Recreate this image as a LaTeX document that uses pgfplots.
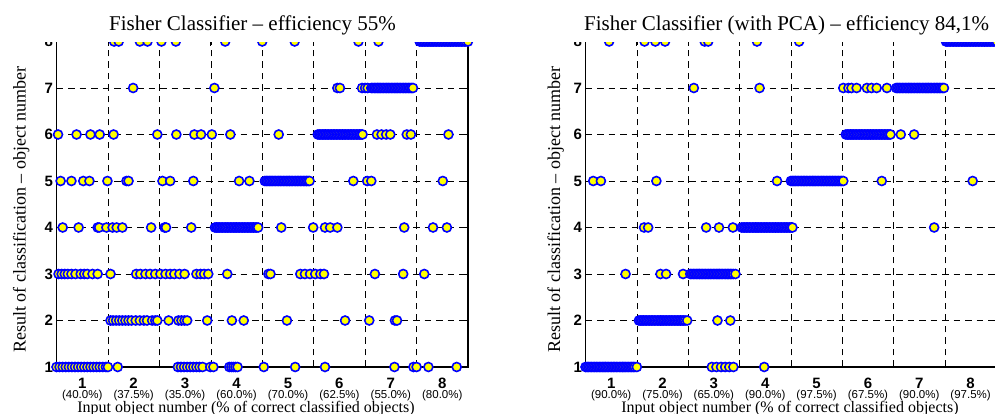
\documentclass[border=0pt]{standalone}
\usepackage{fontspec}
\setmainfont{Liberation Serif}
\newfontfamily\arial{Liberation Sans}
\usepackage{pgfplots}
\pgfplotsset{compat=1.18}
\definecolor{mblue}{HTML}{0000FF}
\definecolor{myellow}{HTML}{FFFF00}

\pgfplotsset{
  fisher/.style={
    scale only axis, height=325.5pt,
    xmin=0.5, xmax=8.5, ymin=1, ymax=8,
    clip=false,
    xtick={1,...,8}, xticklabels={1,2,3,4,5,6,7,8},
    ytick={1,...,8}, yticklabels={1,2,3,4,5,6,7,8},
    minor xtick={1.5,2.5,...,7.5},
    xminorgrids=true, ymajorgrids=true,
    every major x tick/.style={draw=none},
    every extra x tick/.style={draw=none},
    tick align=inside, major tick length=5pt, minor tick length=5pt,
    grid style={black, line width=0.6pt, dash pattern=on 6.5pt off 5pt},
    minor grid style={black, line width=0.6pt, dash pattern=on 6.5pt off 5pt},
    axis line style={black, line width=1.4pt},
    tick style={black, line width=0.8pt},
    xticklabel style={inner sep=1pt, yshift=-10pt, font=\arial\bfseries\fontsize{15}{15}\selectfont},
    yticklabel style={font=\arial\bfseries\fontsize{15}{15}\selectfont},
    extra x ticks={1,...,8},
    extra x tick style={xticklabel style={inner sep=0pt, yshift=-13pt, font=\arial\fontsize{11.5}{12}\selectfont}},
  },
  fish/.style={only marks, mark=*, mark size=4.5pt,
    mark options={draw=mblue, fill=myellow, line width=1.6pt}},
}

\begin{document}
\begin{tikzpicture}[x=1pt, y=1pt]
\useasboundingbox (0,0) rectangle (995,414);

% left panel
\begin{axis}[fisher, at={(56.5pt,47pt)}, anchor=south west, width=411.5pt,
  extra x tick labels={(40.0\%),(37.5\%),(35.0\%),(60.0\%),(70.0\%),(62.5\%),(55.0\%),(80.0\%)}]
\addplot[fish] coordinates {(0.50,1)(0.56,1)(0.62,1)(0.68,1)(0.74,1)(0.80,1)(0.86,1)(0.92,1)(0.98,1)(1.04,1)(1.10,1)(1.16,1)(1.22,1)(1.28,1)(1.34,1)(1.40,1)(1.46,1)(1.50,1)(1.69,1)(2.86,1)(2.92,1)(2.98,1)(3.04,1)(3.10,1)(3.16,1)(3.22,1)(3.28,1)(3.34,1)(3.49,1)(3.55,1)(3.86,1)(3.90,1)(3.94,1)(3.98,1)(4.02,1)(4.53,1)(5.14,1)(5.72,1)(7.07,1)(7.44,1)(7.50,1)(7.73,1)(8.28,1)};
\addplot[fish] coordinates {(1.55,2)(1.60,2)(1.66,2)(1.72,2)(1.78,2)(1.84,2)(1.90,2)(1.96,2)(2.04,2)(2.12,2)(2.20,2)(2.26,2)(2.36,2)(2.42,2)(2.46,2)(2.68,2)(2.87,2)(2.93,2)(2.99,2)(3.04,2)(3.43,2)(3.91,2)(4.14,2)(4.98,2)(6.11,2)(6.58,2)(7.08,2)(7.12,2)};
\addplot[fish] coordinates {(0.54,3)(0.60,3)(0.66,3)(0.72,3)(0.79,3)(0.87,3)(0.97,3)(1.04,3)(1.10,3)(1.20,3)(1.30,3)(1.55,3)(2.05,3)(2.13,3)(2.23,3)(2.32,3)(2.42,3)(2.52,3)(2.62,3)(2.71,3)(2.79,3)(2.89,3)(2.99,3)(3.22,3)(3.30,3)(3.37,3)(3.45,3)(3.82,3)(4.62,3)(4.66,3)(5.24,3)(5.33,3)(5.43,3)(5.53,3)(5.63,3)(5.70,3)(6.69,3)(7.24,3)(7.65,3)};
\addplot[fish] coordinates {(0.62,4)(0.93,4)(1.30,4)(1.33,4)(1.47,4)(1.59,4)(1.67,4)(1.78,4)(2.34,4)(2.60,4)(2.63,4)(3.12,4)(3.58,4)(3.61,4)(3.64,4)(3.67,4)(3.70,4)(3.73,4)(3.76,4)(3.79,4)(3.82,4)(3.85,4)(3.88,4)(3.91,4)(3.94,4)(3.97,4)(4.00,4)(4.03,4)(4.06,4)(4.09,4)(4.12,4)(4.15,4)(4.18,4)(4.21,4)(4.24,4)(4.27,4)(4.30,4)(4.33,4)(4.36,4)(4.39,4)(4.42,4)(4.87,4)(5.49,4)(5.72,4)(5.82,4)(5.96,4)(7.26,4)(7.82,4)(8.09,4)};
\addplot[fish] coordinates {(0.58,5)(0.79,5)(1.02,5)(1.14,5)(1.49,5)(1.86,5)(1.90,5)(2.56,5)(2.71,5)(3.16,5)(4.05,5)(4.25,5)(4.55,5)(4.58,5)(4.61,5)(4.64,5)(4.67,5)(4.70,5)(4.73,5)(4.76,5)(4.79,5)(4.82,5)(4.85,5)(4.88,5)(4.91,5)(4.94,5)(4.97,5)(5.00,5)(5.03,5)(5.06,5)(5.09,5)(5.12,5)(5.15,5)(5.18,5)(5.21,5)(5.24,5)(5.27,5)(5.30,5)(5.33,5)(5.36,5)(5.39,5)(5.42,5)(6.27,5)(6.54,5)(6.62,5)(8.01,5)};
\addplot[fish] coordinates {(0.53,6)(0.89,6)(1.16,6)(1.34,6)(1.61,6)(2.46,6)(2.83,6)(3.18,6)(3.31,6)(3.52,6)(3.88,6)(4.82,6)(5.58,6)(5.61,6)(5.64,6)(5.67,6)(5.70,6)(5.73,6)(5.76,6)(5.79,6)(5.82,6)(5.85,6)(5.88,6)(5.91,6)(5.94,6)(5.97,6)(6.00,6)(6.03,6)(6.06,6)(6.09,6)(6.12,6)(6.15,6)(6.18,6)(6.21,6)(6.24,6)(6.27,6)(6.30,6)(6.33,6)(6.36,6)(6.39,6)(6.42,6)(6.45,6)(6.73,6)(6.82,6)(6.91,6)(6.99,6)(7.31,6)(7.39,6)(8.12,6)};
\addplot[fish] coordinates {(1.99,7)(3.57,7)(5.96,7)(6.01,7)(6.44,7)(6.50,7)(6.55,7)(6.62,7)(6.65,7)(6.68,7)(6.71,7)(6.74,7)(6.77,7)(6.80,7)(6.83,7)(6.86,7)(6.89,7)(6.92,7)(6.95,7)(6.98,7)(7.01,7)(7.04,7)(7.07,7)(7.10,7)(7.13,7)(7.16,7)(7.19,7)(7.22,7)(7.25,7)(7.28,7)(7.31,7)(7.34,7)(7.37,7)(7.40,7)(7.43,7)};
\addplot[fish] coordinates {(1.62,8)(1.71,8)(2.12,8)(2.27,8)(2.54,8)(2.82,8)(3.78,8)(4.50,8)(5.13,8)(6.37,8)(6.76,8)(7.56,8)(7.59,8)(7.62,8)(7.65,8)(7.68,8)(7.71,8)(7.74,8)(7.77,8)(7.80,8)(7.83,8)(7.86,8)(7.89,8)(7.92,8)(7.95,8)(7.98,8)(8.01,8)(8.04,8)(8.07,8)(8.10,8)(8.13,8)(8.16,8)(8.19,8)(8.22,8)(8.25,8)(8.28,8)(8.31,8)(8.34,8)(8.37,8)(8.40,8)(8.43,8)(8.46,8)(8.50,8)};
\end{axis}

% right panel
\begin{axis}[fisher, at={(585.5pt,47pt)}, anchor=south west, width=410.8pt,
  extra x tick labels={(90.0\%),(75.0\%),(65.0\%),(90.0\%),(97.5\%),(67.5\%),(90.0\%),(97.5\%)}]
\addplot[fish] coordinates {(0.50,1)(0.53,1)(0.56,1)(0.59,1)(0.62,1)(0.65,1)(0.68,1)(0.71,1)(0.74,1)(0.77,1)(0.80,1)(0.83,1)(0.86,1)(0.89,1)(0.92,1)(0.95,1)(0.98,1)(1.01,1)(1.04,1)(1.07,1)(1.10,1)(1.13,1)(1.16,1)(1.19,1)(1.22,1)(1.25,1)(1.28,1)(1.31,1)(1.34,1)(1.37,1)(1.40,1)(1.43,1)(1.46,1)(1.50,1)(2.96,1)(3.05,1)(3.14,1)(3.22,1)(3.30,1)(3.38,1)(3.98,1)};
\addplot[fish] coordinates {(1.54,2)(1.57,2)(1.60,2)(1.63,2)(1.66,2)(1.69,2)(1.72,2)(1.75,2)(1.78,2)(1.81,2)(1.84,2)(1.87,2)(1.90,2)(1.93,2)(1.96,2)(1.99,2)(2.02,2)(2.05,2)(2.08,2)(2.11,2)(2.14,2)(2.17,2)(2.20,2)(2.23,2)(2.26,2)(2.29,2)(2.32,2)(2.35,2)(2.38,2)(2.41,2)(2.44,2)(2.48,2)(3.07,2)(3.32,2)};
\addplot[fish] coordinates {(1.28,3)(1.96,3)(2.07,3)(2.40,3)(2.54,3)(2.57,3)(2.60,3)(2.63,3)(2.66,3)(2.69,3)(2.72,3)(2.75,3)(2.78,3)(2.81,3)(2.84,3)(2.87,3)(2.90,3)(2.93,3)(2.96,3)(2.99,3)(3.02,3)(3.05,3)(3.08,3)(3.11,3)(3.14,3)(3.17,3)(3.20,3)(3.23,3)(3.26,3)(3.29,3)(3.32,3)(3.35,3)(3.38,3)(3.42,3)};
\addplot[fish] coordinates {(1.64,4)(1.72,4)(2.85,4)(3.10,4)(3.37,4)(3.54,4)(3.57,4)(3.60,4)(3.63,4)(3.66,4)(3.69,4)(3.72,4)(3.75,4)(3.78,4)(3.81,4)(3.84,4)(3.87,4)(3.90,4)(3.93,4)(3.96,4)(3.99,4)(4.02,4)(4.05,4)(4.08,4)(4.11,4)(4.14,4)(4.17,4)(4.20,4)(4.23,4)(4.26,4)(4.29,4)(4.32,4)(4.35,4)(4.38,4)(4.41,4)(4.44,4)(4.47,4)(4.50,4)(4.53,4)(7.29,4)};
\addplot[fish] coordinates {(0.65,5)(0.80,5)(1.88,5)(4.23,5)(4.50,5)(4.53,5)(4.56,5)(4.59,5)(4.62,5)(4.65,5)(4.68,5)(4.71,5)(4.74,5)(4.77,5)(4.80,5)(4.83,5)(4.86,5)(4.89,5)(4.92,5)(4.95,5)(4.98,5)(5.01,5)(5.04,5)(5.07,5)(5.10,5)(5.13,5)(5.16,5)(5.19,5)(5.22,5)(5.25,5)(5.28,5)(5.31,5)(5.34,5)(5.37,5)(5.40,5)(5.43,5)(5.46,5)(5.49,5)(5.52,5)(6.27,5)(8.04,5)};
\addplot[fish] coordinates {(5.57,6)(5.60,6)(5.63,6)(5.66,6)(5.69,6)(5.72,6)(5.75,6)(5.78,6)(5.81,6)(5.84,6)(5.87,6)(5.90,6)(5.93,6)(5.96,6)(5.99,6)(6.02,6)(6.05,6)(6.08,6)(6.11,6)(6.14,6)(6.17,6)(6.20,6)(6.23,6)(6.26,6)(6.29,6)(6.32,6)(6.35,6)(6.38,6)(6.41,6)(6.44,6)(6.64,6)(6.90,6)};
\addplot[fish] coordinates {(2.61,7)(3.89,7)(5.52,7)(5.62,7)(5.68,7)(5.78,7)(5.98,7)(6.07,7)(6.17,7)(6.37,7)(6.55,7)(6.58,7)(6.61,7)(6.64,7)(6.67,7)(6.70,7)(6.73,7)(6.76,7)(6.79,7)(6.82,7)(6.85,7)(6.88,7)(6.91,7)(6.94,7)(6.97,7)(7.00,7)(7.03,7)(7.06,7)(7.09,7)(7.12,7)(7.15,7)(7.18,7)(7.21,7)(7.24,7)(7.27,7)(7.30,7)(7.33,7)(7.36,7)(7.39,7)(7.42,7)(7.45,7)(7.48,7)};
\addplot[fish] coordinates {(0.96,8)(1.65,8)(1.86,8)(2.05,8)(2.82,8)(2.89,8)(3.84,8)(4.66,8)(7.52,8)(7.55,8)(7.58,8)(7.61,8)(7.64,8)(7.67,8)(7.70,8)(7.73,8)(7.76,8)(7.79,8)(7.82,8)(7.85,8)(7.88,8)(7.91,8)(7.94,8)(7.97,8)(8.00,8)(8.03,8)(8.06,8)(8.09,8)(8.12,8)(8.15,8)(8.18,8)(8.21,8)(8.24,8)(8.27,8)(8.30,8)(8.33,8)(8.36,8)(8.39,8)(8.42,8)(8.45,8)(8.48,8)(8.51,8)};
\end{axis}

% the title strip hides the top row, as in the source image
\fill[white] (-5,372.3) rectangle (1000,420);
\node[anchor=base, font=\fontsize{21}{25}\selectfont] at (252.5,383.3) {Fisher Classifier – efficiency 55\%};
\node[anchor=base, font=\fontsize{21}{25}\selectfont] at (786.7,383.3) {Fisher Classifier (with PCA) – efficiency 84,1\%};
\node[rotate=90, anchor=base, font=\fontsize{18}{20}\selectfont] at (25.5,204.5) {Result of classification – object number};
\node[rotate=90, anchor=base, font=\fontsize{18}{20}\selectfont] at (560,204.5) {Result of classification – object number};
\node[anchor=base, inner sep=0pt, font=\fontsize{16}{18}\selectfont] at (246,1.5) {Input object number (\% of correct classified objects)};
\node[anchor=base, inner sep=0pt, font=\fontsize{16}{18}\selectfont] at (790,1.5) {Input object number (\% of correct classified objects)};
\end{tikzpicture}
\end{document}
